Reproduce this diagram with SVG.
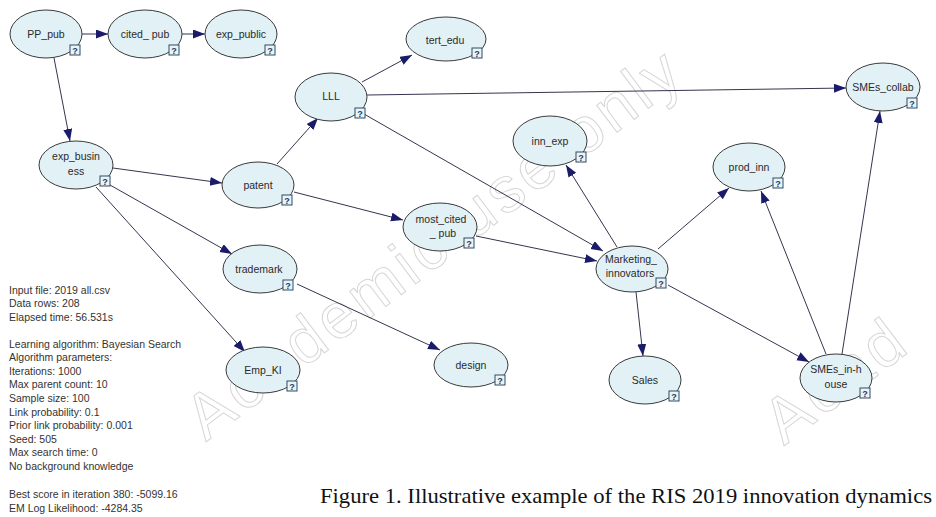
<svg xmlns="http://www.w3.org/2000/svg" width="936" height="517" viewBox="0 0 936 517">
<defs>
<style>
.wm{font-family:"Liberation Sans",Arial,sans-serif;font-size:64px;fill:none;stroke:#d6d6d6;stroke-width:1}
.n ellipse{fill:#e2f1f6;stroke:#3a3a3a;stroke-width:1}
.n text{font-family:"Liberation Sans",Arial,sans-serif;font-size:10.5px;fill:#2a2a2a;text-anchor:middle}
.n rect{fill:#e8f4f6;stroke:#2e4a66;stroke-width:1}
.n .q{font-size:9px;fill:#1f3a66;font-weight:bold}
.e line{stroke:#35354f;stroke-width:1;marker-end:url(#ah)}
.info text{font-family:"Liberation Sans",Arial,sans-serif;font-size:10.5px;fill:#333}
.cap{font-family:"Liberation Serif","Times New Roman",serif;font-size:21px;fill:#111}
</style>
<marker id="ah" markerUnits="userSpaceOnUse" markerWidth="13" markerHeight="10" refX="12" refY="4.5" orient="auto">
<path d="M0,0 L12,4.5 L0,9 Z" fill="#1b1b6b"/>
</marker>
</defs>
<rect width="936" height="517" fill="#ffffff"/>
<g id="watermark">
<text class="wm" transform="translate(206,442) rotate(-37)" textLength="600" lengthAdjust="spacing">Academic use only</text>
<text class="wm" transform="translate(784,446) rotate(-37)" letter-spacing="4">Acad</text>
</g>
<g id="connectors" class="e">
<line x1="82" y1="34" x2="108" y2="34"/>
<line x1="182" y1="34" x2="205" y2="34"/>
<line x1="54" y1="58" x2="70" y2="141"/>
<line x1="113" y1="168" x2="222" y2="183"/>
<line x1="110" y1="185" x2="232" y2="254"/>
<line x1="96" y1="187" x2="245" y2="352"/>
<line x1="277" y1="164" x2="318" y2="118"/>
<line x1="294" y1="192" x2="403" y2="220"/>
<line x1="362" y1="82" x2="412" y2="55"/>
<line x1="367" y1="95" x2="846" y2="88"/>
<line x1="364" y1="114" x2="603" y2="251"/>
<line x1="476" y1="236" x2="597" y2="261"/>
<line x1="297" y1="284" x2="440" y2="350"/>
<line x1="617" y1="247" x2="566" y2="165"/>
<line x1="658" y1="249" x2="729" y2="188"/>
<line x1="636" y1="292" x2="643" y2="356"/>
<line x1="668" y1="285" x2="809" y2="362"/>
<line x1="826" y1="354" x2="761" y2="191"/>
<line x1="842" y1="354" x2="880" y2="111"/>
</g>
<g id="PP_pub" class="n"><ellipse cx="46" cy="34" rx="36" ry="24"/><text x="46" y="38">PP_pub</text><rect x="70" y="45" width="10" height="10"/><text class="q" x="75" y="53.5">?</text></g>
<g id="cited_pub" class="n"><ellipse cx="145" cy="34" rx="37" ry="24"/><text x="145" y="38">cited_ pub</text><rect x="169" y="45" width="10" height="10"/><text class="q" x="174" y="53.5">?</text></g>
<g id="exp_public" class="n"><ellipse cx="241" cy="34" rx="36" ry="24"/><text x="241" y="38">exp_public</text><rect x="265" y="45" width="10" height="10"/><text class="q" x="270" y="53.5">?</text></g>
<g id="tert_edu" class="n"><ellipse cx="446" cy="39" rx="40" ry="22"/><text x="445" y="44">tert_edu</text><rect x="472" y="48" width="10" height="10"/><text class="q" x="477" y="56.5">?</text></g>
<g id="LLL" class="n"><ellipse cx="331" cy="97" rx="36" ry="24"/><text x="331" y="100">LLL</text><rect x="355" y="108" width="10" height="10"/><text class="q" x="360" y="116.5">?</text></g>
<g id="SMEs_collab" class="n"><ellipse cx="883" cy="87" rx="37" ry="24"/><text x="883" y="91">SMEs_collab</text><rect x="907" y="98" width="10" height="10"/><text class="q" x="912" y="106.5">?</text></g>
<g id="exp_business" class="n"><ellipse cx="76" cy="165" rx="37" ry="24"/><text x="76" y="160">exp_busin</text><text x="76" y="175">ess</text><rect x="100" y="176" width="10" height="10"/><text class="q" x="105" y="184.5">?</text></g>
<g id="patent" class="n"><ellipse cx="258" cy="185" rx="36" ry="23"/><text x="258" y="189">patent</text><rect x="282" y="195" width="10" height="10"/><text class="q" x="287" y="203.5">?</text></g>
<g id="inn_exp" class="n"><ellipse cx="550" cy="141" rx="37" ry="25"/><text x="550" y="145">inn_exp</text><rect x="576" y="152" width="10" height="10"/><text class="q" x="581" y="160.5">?</text></g>
<g id="prod_inn" class="n"><ellipse cx="749" cy="167" rx="36" ry="24"/><text x="749" y="171">prod_inn</text><rect x="773" y="178" width="10" height="10"/><text class="q" x="778" y="186.5">?</text></g>
<g id="most_cited_pub" class="n"><ellipse cx="440" cy="227" rx="37" ry="24"/><text x="441" y="223">most_cited</text><text x="443" y="237">_ pub</text><rect x="464" y="238" width="10" height="10"/><text class="q" x="469" y="246.5">?</text></g>
<g id="Marketing_innovators" class="n"><ellipse cx="632" cy="269" rx="36" ry="23"/><text x="631" y="263">Marketing_</text><text x="630" y="277">innovators</text><rect x="656" y="278" width="10" height="10"/><text class="q" x="661" y="286.5">?</text></g>
<g id="trademark" class="n"><ellipse cx="260" cy="269" rx="37" ry="24"/><text x="259" y="273">trademark</text><rect x="283" y="280" width="10" height="10"/><text class="q" x="288" y="288.5">?</text></g>
<g id="Emp_KI" class="n"><ellipse cx="263" cy="370" rx="37" ry="23"/><text x="263" y="374">Emp_KI</text><rect x="287" y="381" width="10" height="10"/><text class="q" x="292" y="389.5">?</text></g>
<g id="design" class="n"><ellipse cx="471" cy="365" rx="37" ry="22"/><text x="471" y="369">design</text><rect x="495" y="375" width="10" height="10"/><text class="q" x="500" y="383.5">?</text></g>
<g id="Sales" class="n"><ellipse cx="645" cy="380" rx="36" ry="24"/><text x="645" y="384">Sales</text><rect x="669" y="391" width="10" height="10"/><text class="q" x="674" y="399.5">?</text></g>
<g id="SMEs_in-house" class="n"><ellipse cx="836" cy="378" rx="36" ry="24"/><text x="836" y="373">SMEs_in-h</text><text x="836" y="388">ouse</text><rect x="860" y="388" width="10" height="10"/><text class="q" x="865" y="396.5">?</text></g>
<g id="info" class="info">
<text x="9" y="294">Input file: 2019 all.csv</text>
<text x="9" y="307">Data rows: 208</text>
<text x="9" y="321">Elapsed time: 56.531s</text>
<text x="9" y="348">Learning algorithm: Bayesian Search</text>
<text x="9" y="361">Algorithm parameters:</text>
<text x="9" y="375">Iterations: 1000</text>
<text x="9" y="388">Max parent count: 10</text>
<text x="9" y="402">Sample size: 100</text>
<text x="9" y="416">Link probability: 0.1</text>
<text x="9" y="429">Prior link probability: 0.001</text>
<text x="9" y="443">Seed: 505</text>
<text x="9" y="456">Max search time: 0</text>
<text x="9" y="470">No background knowledge</text>
<text x="9" y="498">Best score in iteration 380: -5099.16</text>
<text x="9" y="512">EM Log Likelihood: -4284.35</text>
</g>
<text class="cap" x="320" y="503" textLength="612" lengthAdjust="spacingAndGlyphs">Figure 1. Illustrative example of the RIS 2019 innovation dynamics</text>
</svg>
